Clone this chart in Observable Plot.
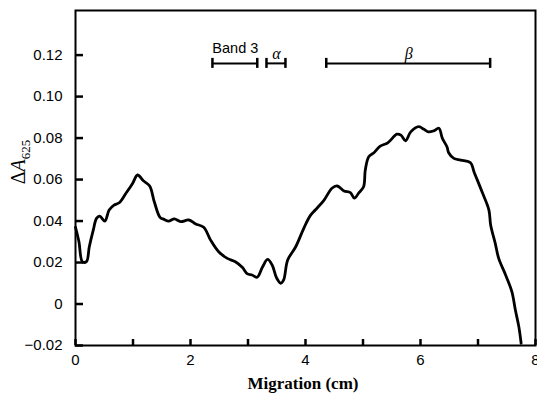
<!DOCTYPE html>
<html><head><meta charset="utf-8">
<script src="https://cdn.jsdelivr.net/npm/d3@7"></script>
<script src="https://cdn.jsdelivr.net/npm/@observablehq/plot@0.6"></script>
<style>body{margin:0;background:#fff}</style>
</head><body><div id="chart"></div>
<script>
const migration = [0,0.06,0.12,0.19,0.24,0.31,0.365,0.42,0.51,0.585,0.67,0.76,0.875,0.99,1.08,1.18,1.29,1.37,1.47,1.54,1.62,1.72,1.83,1.97,2.09,2.23,2.35,2.49,2.64,2.78,2.90,2.99,3.07,3.16,3.25,3.34,3.42,3.50,3.57,3.62,3.69,3.83,3.97,4.08,4.17,4.32,4.46,4.55,4.67,4.78,4.85,4.93,5.01,5.04,5.10,5.19,5.30,5.43,5.59,5.66,5.74,5.83,5.97,6.06,6.14,6.23,6.32,6.38,6.46,6.49,6.58,6.70,6.87,6.93,7.07,7.19,7.22,7.30,7.36,7.48,7.59,7.65,7.71,7.75];
const deltaA = [0.037,0.030,0.0204,0.0204,0.0276,0.0357,0.0413,0.0424,0.040,0.0453,0.0477,0.0488,0.0533,0.058,0.0622,0.0594,0.0569,0.0493,0.0418,0.0408,0.040,0.041,0.0397,0.0405,0.0386,0.037,0.0308,0.0252,0.022,0.0204,0.0177,0.0145,0.014,0.0129,0.0177,0.0215,0.0188,0.0124,0.010,0.0116,0.0212,0.0276,0.0365,0.0425,0.0453,0.050,0.0558,0.0569,0.0545,0.0537,0.051,0.0537,0.0565,0.0646,0.071,0.0729,0.0761,0.0777,0.0819,0.0814,0.0787,0.083,0.0855,0.0842,0.083,0.0835,0.0847,0.0799,0.0758,0.0729,0.0702,0.0694,0.0681,0.0638,0.0541,0.0453,0.0381,0.0292,0.022,0.014,0.0059,-0.0029,-0.0109,-0.0189];
const bandNames = ["Band 3", "α", "β"];
const bandStart = [2.39, 3.33, 4.37];
const bandEnd = [3.17, 3.66, 7.22];
const bandLevel = 0.116;
const xTicks = [0,1,2,3,4,5,6,7,8];
const xLabels = [0,2,4,6,8];
const yTicks = [-0.02,0,0.02,0.04,0.06,0.08,0.10,0.12];

const W = 537, H = 396, ML = 75, MR = 2, MT = 10, MB = 51;
const frameW = W - ML - MR, frameH = H - MT - MB;

const curve = migration.map((x, i) => ({x, y: deltaA[i]}));
const bands = bandNames.map((name, i) => ({name, x1: bandStart[i], x2: bandEnd[i], y: bandLevel, mid: (bandStart[i] + bandEnd[i]) / 2}));
const caps = bands.flatMap(b => [{x: b.x1, y: b.y}, {x: b.x2, y: b.y}]);

const plot = Plot.plot({
  width: W, height: H,
  marginLeft: ML, marginRight: MR, marginTop: MT, marginBottom: MB,
  style: {fontFamily: "Liberation Sans, Arial, sans-serif", fontSize: "15px", background: "#fff", color: "#000"},
  x: {domain: [0, 8]},
  y: {domain: [-0.02, 0.1415]},
  marks: [
    Plot.frame({stroke: "#000", strokeWidth: 2}),
    Plot.tickX(xTicks, {x: d => d, insetTop: frameH - 6, stroke: "#000", strokeWidth: 2.5}),
    Plot.tickY(yTicks, {y: d => d, insetRight: frameW - 8, stroke: "#000", strokeWidth: 2.5}),
    Plot.axisX(xLabels, {tickSize: 0, tickPadding: 9, label: null, fontSize: 15}),
    Plot.axisY(yTicks, {tickSize: 0, tickPadding: 13, label: null, fontSize: 15,
      tickFormat: d => d === 0 ? "0" : (d < 0 ? "\u2212" : "") + Math.abs(d).toFixed(2)}),
    Plot.line(curve, {x: "x", y: "y", stroke: "#000", strokeWidth: 2.8, strokeLinejoin: "round", strokeLinecap: "round", curve: "catmull-rom"}),
    Plot.link(bands, {x1: "x1", x2: "x2", y1: "y", y2: "y", stroke: "#000", strokeWidth: 2}),
    Plot.text(bands.filter(b => b.name === "Band 3"), {x: "mid", y: "y", text: "name", dy: -15, fontSize: 14.5}),
    Plot.text(bands.filter(b => b.name !== "Band 3"), {x: "mid", y: "y", text: "name", dy: -10, fontSize: 16, fontStyle: "italic", fontFamily: "Liberation Serif, Times New Roman, serif"})
  ]
});
document.getElementById("chart").appendChild(plot);

// Bar end caps, positioned with the plot's own scales
const sx = plot.scale("x"), sy = plot.scale("y");
const svg = d3.select(plot);
svg.append("g").selectAll("path").data(caps).join("path")
  .attr("fill", "none").attr("stroke", "#000").attr("stroke-width", 2.5)
  .attr("d", d => `M${sx.apply(d.x)},${sy.apply(d.y) - 5}V${sy.apply(d.y) + 5}`);

svg.append("text")
  .attr("x", 303).attr("y", 389)
  .attr("text-anchor", "middle")
  .attr("font-family", "Liberation Serif, Times New Roman, serif")
  .attr("font-weight", "bold").attr("font-size", 17)
  .text("Migration (cm)");
const yl = svg.append("text")
  .attr("transform", "translate(25,162) rotate(-90)")
  .attr("text-anchor", "middle")
  .attr("font-family", "Liberation Serif, Times New Roman, serif")
  .attr("font-size", 20);
yl.append("tspan").text("Δ");
yl.append("tspan").attr("font-style", "italic").text("A");
yl.append("tspan").attr("font-size", 13).attr("dy", 5).text("625");
</script>
</body></html>
